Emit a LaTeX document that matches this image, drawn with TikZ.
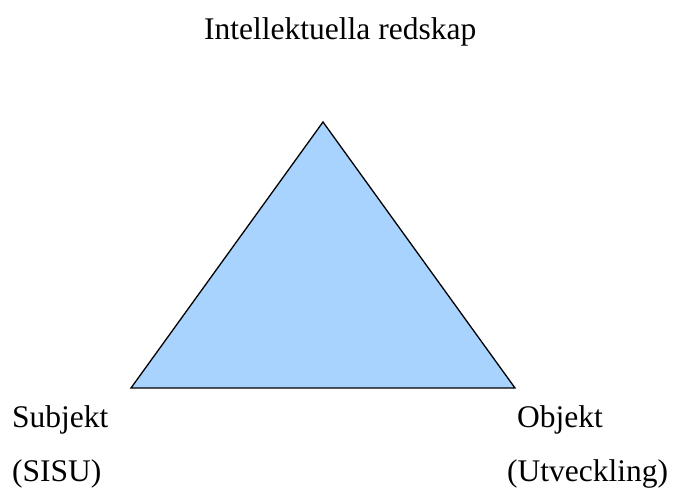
\documentclass[tikz,border=0pt]{standalone}
\usepackage{fontspec}
\setmainfont{Liberation Serif}
\definecolor{triblue}{RGB}{169,211,255}
\begin{document}
\begin{tikzpicture}[x=1pt,y=-1pt,
    lbl/.style={inner sep=0pt,anchor=base west,font=\fontsize{31.5}{34}\selectfont}]
  \useasboundingbox (0,0) rectangle (674,487);
  \coordinate (top) at (323,122);
  \coordinate (left) at (131,388);
  \coordinate (right) at (515,388);
  \draw[fill=triblue,line width=1.3pt,line join=miter] (top) -- (left) -- (right) -- cycle;
  \node[lbl] (tools) at (204,40) {Intellektuella redskap};
  \node[lbl] (subj) at (12,427) {Subjekt};
  \node[lbl] (sisu) at (12,481) {(SISU)};
  \node[lbl] (obj) at (517,427) {Objekt};
  \node[lbl] (utv) at (507,481) {(Utveckling)};
\end{tikzpicture}
\end{document}
